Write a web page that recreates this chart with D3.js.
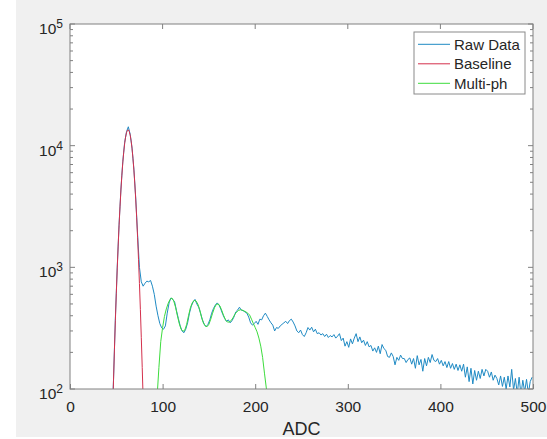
<!DOCTYPE html>
<html>
<head>
<meta charset="utf-8">
<script src="https://cdn.jsdelivr.net/npm/d3@7"></script>
<style>
    body { margin: 0; background: #fff; }
    svg text { font-family: "Liberation Sans", Arial, Helvetica, sans-serif; fill: #262626; }
</style>
</head>
<body>
<svg id="chart"></svg>
<script>
// bin centres (ADC) for each series
const rawAdc = d3.range(41, 500, 2);
const baseAdc = d3.range(44, 81, 1);
const multiAdc = d3.range(92, 216, 2);

// raw histogram counts (2 ADC bins)
const rawCounts = [
    12, 22, 45, 120, 380, 1000, 2250, 4400, 7400, 10600,
    13000, 14300, 12400, 9600, 6400, 3700, 1850, 1000, 760, 700,
    740, 770, 760, 780, 700, 600, 480, 400, 345, 318,
    310, 330, 420, 510, 560, 545, 520, 440, 380, 330,
    300, 290, 310, 350, 420, 480, 520, 545, 500, 470,
    420, 370, 340, 325, 340, 370, 420, 460, 490, 510,
    490, 450, 410, 380, 360, 370, 350, 365, 390, 430,
    445, 470, 445, 440, 430, 420, 390, 350, 335, 345,
    360, 340, 375, 370, 400, 420, 395, 370, 350, 335,
    300, 320, 315, 330, 340, 350, 360, 345, 365, 375,
    355, 330, 300, 290, 305, 280, 270, 290, 320, 305,
    322, 295, 310, 285, 290, 278, 285, 270, 282, 265,
    275, 268, 280, 262, 272, 285, 250, 262, 225, 245,
    220, 258, 235, 262, 285, 245, 268, 240, 252, 228,
    245, 222, 228, 205, 218, 200, 225, 195, 232, 215,
    208, 185, 182, 198, 185, 158, 182, 172, 190, 178,
    178, 165, 175, 180, 160, 178, 148, 188, 158, 175,
    140, 178, 155, 182, 165, 192, 172, 168, 178, 160,
    172, 155, 168, 150, 168, 148, 162, 145, 160, 142,
    158, 140, 160, 125, 152, 115, 148, 110, 142, 118,
    140, 122, 145, 128, 145, 140, 125, 138, 118, 130,
    122, 108, 128, 105, 125, 100, 128, 104, 145, 98,
    122, 92, 125, 90, 118, 95, 120, 92, 115, 125
];

// baseline (pedestal) fit
const baseCounts = [
    16, 33, 63, 118, 212, 365, 607, 971, 1493, 2211,
    3148, 4317, 5696, 7227, 8826, 10376, 11734, 12770, 13373, 13477,
    13068, 12195, 10950, 9461, 7866, 6292, 4845, 3590, 2558, 1754,
    1158, 735, 449, 264, 150, 82, 43
];

// multi-photon fit
const multiCounts = [
    40, 85, 150, 245, 320, 395, 455, 505, 545, 560,
    530, 470, 400, 345, 310, 298, 305, 340, 400, 465,
    510, 535, 530, 500, 450, 390, 350, 330, 325, 340,
    375, 420, 465, 495, 500, 480, 440, 400, 370, 355,
    355, 365, 385, 410, 430, 442, 448, 445, 438, 430,
    420, 405, 375, 345, 320, 295, 262, 225, 182, 135,
    102, 75
];

const seriesNames = ['Raw Data', 'Baseline', 'Multi-ph'];
const seriesColors = ['#1f8ac4', '#d4304c', '#3ddc3d'];
const xTicks = [0, 100, 200, 300, 400, 500];
const yMajor = [1e2, 1e3, 1e4, 1e5];
const yExp = ['2', '3', '4', '5'];

class SpectrumChart {
    constructor(_config) {
        this.config = {
            parentElement: _config.parentElement,
            containerWidth: 547,
            containerHeight: 439,
            margin: {top: 24, right: 14, bottom: 50, left: 70}
        };
        this.initVis();
    }

    initVis() {
        let vis = this;
        const m = vis.config.margin;
        vis.width = vis.config.containerWidth - m.left - m.right;
        vis.height = vis.config.containerHeight - m.top - m.bottom;

        vis.svg = d3.select(vis.config.parentElement)
            .attr('width', vis.config.containerWidth)
            .attr('height', vis.config.containerHeight);

        // grey figure background
        vis.svg.append('rect')
            .attr('x', 16).attr('y', 0)
            .attr('width', vis.config.containerWidth - 16)
            .attr('height', 437)
            .attr('fill', '#f0f0f0');

        vis.chart = vis.svg.append('g')
            .attr('transform', `translate(${m.left},${m.top})`);

        vis.chart.append('rect')
            .attr('width', vis.width).attr('height', vis.height)
            .attr('fill', '#fff');

        vis.svg.append('defs').append('clipPath')
            .attr('id', 'plot-clip')
            .append('rect')
            .attr('width', vis.width).attr('height', vis.height);

        vis.xScale = d3.scaleLinear().domain([0, 500]).range([0, vis.width]);
        vis.yScale = d3.scaleLog().domain([1e2, 1e5]).range([vis.height, 0]);

        vis.renderVis();
    }

    renderVis() {
        let vis = this;
        const x = vis.xScale, y = vis.yScale;

        const line = d3.line()
            .x(d => x(d[0]))
            .y(d => y(d[1]));

        const series = [
            d3.zip(rawAdc, rawCounts),
            d3.zip(baseAdc, baseCounts),
            d3.zip(multiAdc, multiCounts)
        ];

        vis.chart.append('g')
            .attr('clip-path', 'url(#plot-clip)')
            .selectAll('path')
            .data(series)
            .join('path')
            .attr('fill', 'none')
            .attr('stroke', (d, i) => seriesColors[i])
            .attr('stroke-width', 1)
            .attr('stroke-linejoin', 'round')
            .attr('d', line);

        // x axis, ticks pointing inwards like matlab
        const xAxisG = vis.chart.append('g')
            .attr('transform', `translate(0,${vis.height})`)
            .call(d3.axisBottom(x).tickValues(xTicks).tickSize(-5).tickSizeOuter(0).tickPadding(12));
        xAxisG.select('.domain').remove();
        xAxisG.selectAll('line').attr('stroke', '#808080');
        xAxisG.selectAll('text').style('font-size', '15.5px').attr('fill', '#262626');

        // top ticks
        vis.chart.append('g')
            .selectAll('line')
            .data(xTicks)
            .join('line')
            .attr('x1', d => x(d)).attr('x2', d => x(d))
            .attr('y1', 0).attr('y2', 5)
            .attr('stroke', '#808080');

        // y ticks on both sides, major + minor
        const minor = [];
        yMajor.slice(0, -1).forEach(p => d3.range(2, 10).forEach(k => minor.push(p * k)));
        const yTickData = yMajor.map(v => ({v, len: 5})).concat(minor.map(v => ({v, len: 3})));

        vis.chart.append('g')
            .selectAll('line.left')
            .data(yTickData)
            .join('line')
            .attr('x1', 0).attr('x2', d => d.len)
            .attr('y1', d => y(d.v)).attr('y2', d => y(d.v))
            .attr('stroke', '#808080');

        vis.chart.append('g')
            .selectAll('line.right')
            .data(yTickData)
            .join('line')
            .attr('x1', vis.width).attr('x2', d => vis.width - d.len)
            .attr('y1', d => y(d.v)).attr('y2', d => y(d.v))
            .attr('stroke', '#808080');

        // y labels as 10^n
        const yLab = vis.chart.append('g')
            .selectAll('text')
            .data(yMajor)
            .join('text')
            .attr('x', -7)
            .attr('y', d => y(d) + 10)
            .attr('text-anchor', 'end')
            .style('font-size', '15.5px');
        yLab.append('tspan').text('10');
        yLab.append('tspan')
            .attr('dy', -6)
            .style('font-size', '12px')
            .text((d, i) => yExp[i]);

        // box
        vis.chart.append('rect')
            .attr('width', vis.width).attr('height', vis.height)
            .attr('fill', 'none')
            .attr('stroke', '#808080');

        // x label
        vis.svg.append('text')
            .attr('x', vis.config.margin.left + vis.width / 2)
            .attr('y', 435)
            .attr('text-anchor', 'middle')
            .style('font-size', '18px')
            .text('ADC');

        // legend
        const legend = vis.svg.append('g').attr('transform', 'translate(414,32)');
        legend.append('rect')
            .attr('width', 111).attr('height', 62)
            .attr('fill', '#fff')
            .attr('stroke', '#8a8a8a');
        const rows = legend.selectAll('g.row')
            .data(seriesNames)
            .join('g')
            .attr('transform', (d, i) => `translate(0,${12.3 + i * 19.5})`);
        rows.append('line')
            .attr('x1', 4).attr('x2', 36)
            .attr('stroke', (d, i) => seriesColors[i]);
        rows.append('text')
            .attr('x', 40).attr('y', 5.5)
            .style('font-size', '15px')
            .text(d => d);
    }
}

new SpectrumChart({parentElement: '#chart'});
</script>
</body>
</html>
